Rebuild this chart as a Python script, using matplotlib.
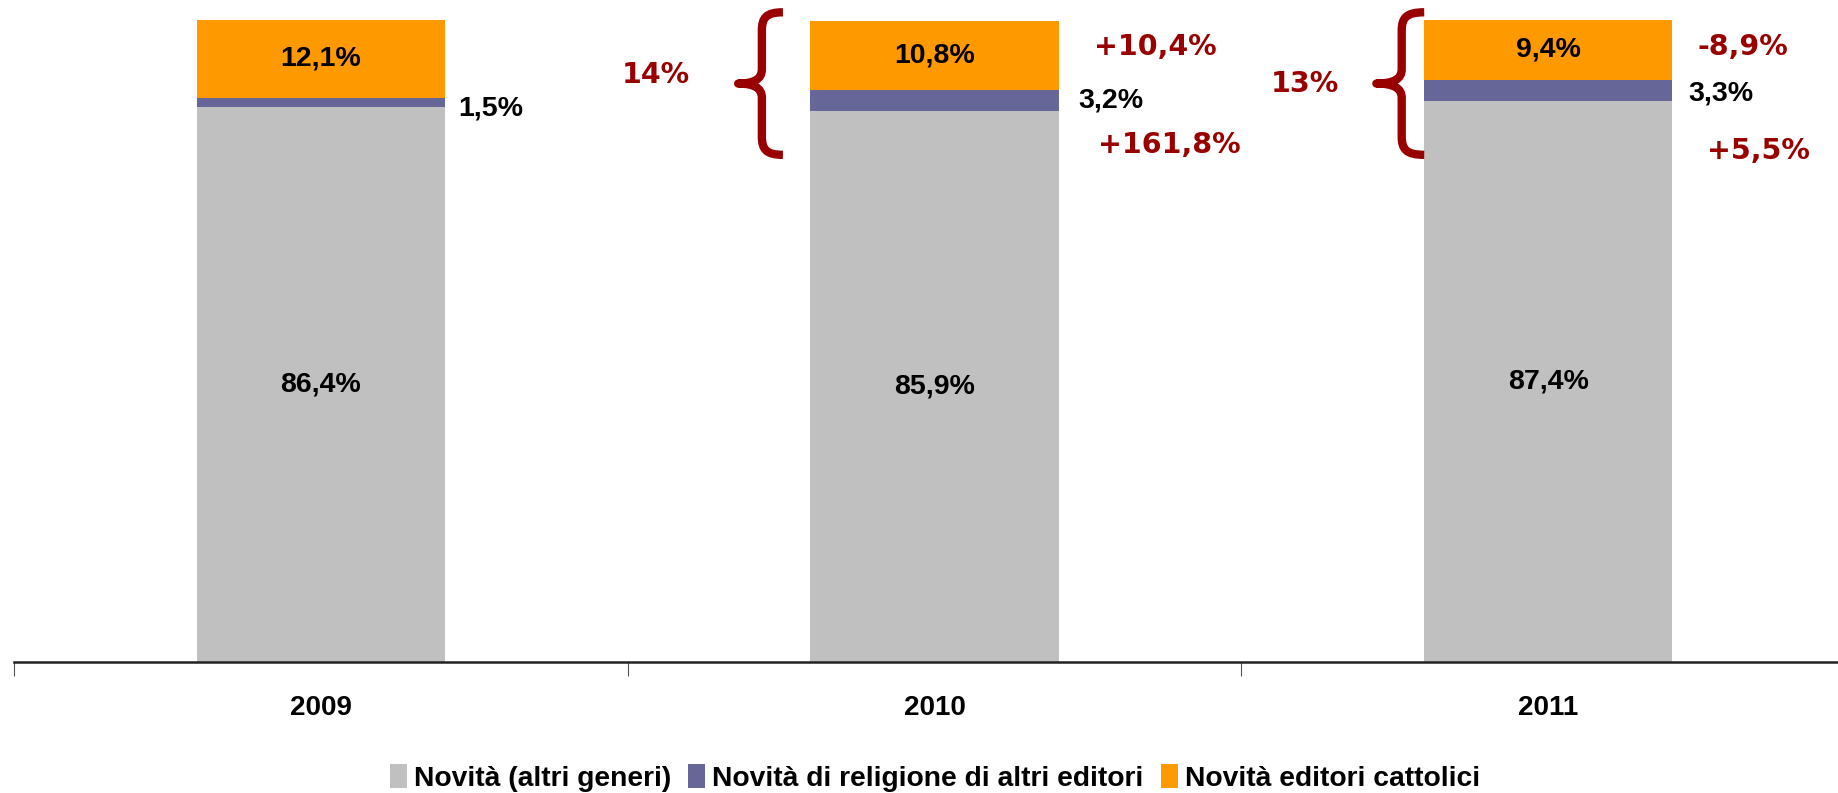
import numpy as np
import matplotlib.pyplot as plt
from matplotlib.path import Path
from matplotlib.patches import PathPatch
from matplotlib.transforms import Affine2D

years = ['2009', '2010', '2011']
altri = [86.4, 85.9, 87.4]
religione = [1.5, 3.2, 3.3]
cattolici = [12.1, 10.8, 9.4]
labels = ['Novità (altri generi)', 'Novità di religione di altri editori', 'Novità editori cattolici']

# red notes: share of religious titles and yearly change
quota = ['', '14%', '13%']
var_catt = ['', '+10,4%', '-8,9%']
var_rel = ['', '+161,8%', '+5,5%']

c_gray = '#C0C0C0'
c_purple = '#666699'
c_orange = '#FF9900'
c_red = '#990000'

fig = plt.figure(figsize=(18.38, 7.93), dpi=100)
W, H = 1838, 793
x0, x1 = 14, 1855
y0, y1 = 662, 20
ax = fig.add_axes([x0 / W, (H - y0) / H, (x1 - x0) / W, (y0 - y1) / H])

x = np.arange(len(years))
bw = 0.405
b1 = np.array(altri)
b2 = b1 + np.array(religione)
ax.bar(x, altri, bw, color=c_gray, label=labels[0])
ax.bar(x, religione, bw, bottom=b1, color=c_purple, label=labels[1])
ax.bar(x, cattolici, bw, bottom=b2, color=c_orange, label=labels[2])

ax.set_xlim(-0.5, 2.5)
ax.set_ylim(0, 100)
ax.set_yticks([])
for s in ['top', 'right', 'left']:
    ax.spines[s].set_visible(False)
ax.spines['bottom'].set_linewidth(1.8)
ax.spines['bottom'].set_color('#222222')
ax.set_xticks(np.arange(-0.5, 3, 1))
ax.set_xticklabels([])
ax.tick_params(axis='x', which='major', length=10, width=0.8, color='#555555')
ax.set_xticks(x, minor=True)
ax.set_xticklabels(years, minor=True, fontsize=20, fontweight='bold', family='Liberation Sans')
ax.tick_params(axis='x', which='minor', length=0, pad=24)

lab = dict(fontsize=20.5, fontweight='bold', family='Liberation Sans', color='black')
for i in range(3):
    ax.text(x[i], altri[i] / 2, f'{altri[i]:.1f}%'.replace('.', ','), ha='center', va='center', **lab)
    ax.text(x[i], b2[i] + cattolici[i] / 2, f'{cattolici[i]:.1f}%'.replace('.', ','), ha='center', va='center', **lab)

rel_dx = [0.022, 0.032, 0.026]
rel_dy = [-1.0, 0.0, -0.5]
for i in range(3):
    ax.text(x[i] + bw / 2 + rel_dx[i], b1[i] + religione[i] / 2 + rel_dy[i],
            f'{religione[i]:.1f}%'.replace('.', ','), ha='left', va='center', **lab)

# braces and red notes
red = dict(fontsize=20.5, fontweight='bold', family='DejaVu Sans', color=c_red, ha='center', va='center')
quota_xy = [None, (0.546, 91.4), (1.604, 90.0)]
catt_xy = [None, (1.360, 95.8), (2.318, 95.8)]
rel_xy = [None, (1.383, 80.6), (2.343, 79.6)]
brace_x = [None, (0.680, 0.753), (1.72, 1.798)]
brace_y = (79.0, 101.2)

verts = [(1, 1), (0.62, 1), (0.53, 0.96), (0.53, 0.87),
         (0.53, 0.6),
         (0.53, 0.53), (0.35, 0.5), (0, 0.5),
         (0.35, 0.5), (0.53, 0.47), (0.53, 0.4),
         (0.53, 0.13),
         (0.53, 0.04), (0.62, 0), (1, 0)]
codes = [Path.MOVETO, Path.CURVE4, Path.CURVE4, Path.CURVE4,
         Path.LINETO,
         Path.CURVE4, Path.CURVE4, Path.CURVE4,
         Path.CURVE4, Path.CURVE4, Path.CURVE4,
         Path.LINETO,
         Path.CURVE4, Path.CURVE4, Path.CURVE4]
brace = Path(verts, codes)

for i in range(1, 3):
    ax.text(*quota_xy[i], quota[i], **red)
    ax.text(*catt_xy[i], var_catt[i], **red)
    ax.text(*rel_xy[i], var_rel[i], **red)
    bx0, bx1 = brace_x[i]
    tr = Affine2D().scale(bx1 - bx0, brace_y[1] - brace_y[0]).translate(bx0, brace_y[0]) + ax.transData
    ax.add_patch(PathPatch(brace, transform=tr, fill=False, edgecolor=c_red, lw=6,
                           capstyle='butt', joinstyle='round', clip_on=False))

leg = fig.legend(loc='center', bbox_to_anchor=(935 / W, (H - 778) / H), ncol=3, frameon=False,
                 prop=dict(family='Liberation Sans', weight='bold', size=20.3),
                 handlelength=0.6, handleheight=0.9, handletextpad=0.25, columnspacing=0.6)

fig.savefig('out.png', dpi=100)
